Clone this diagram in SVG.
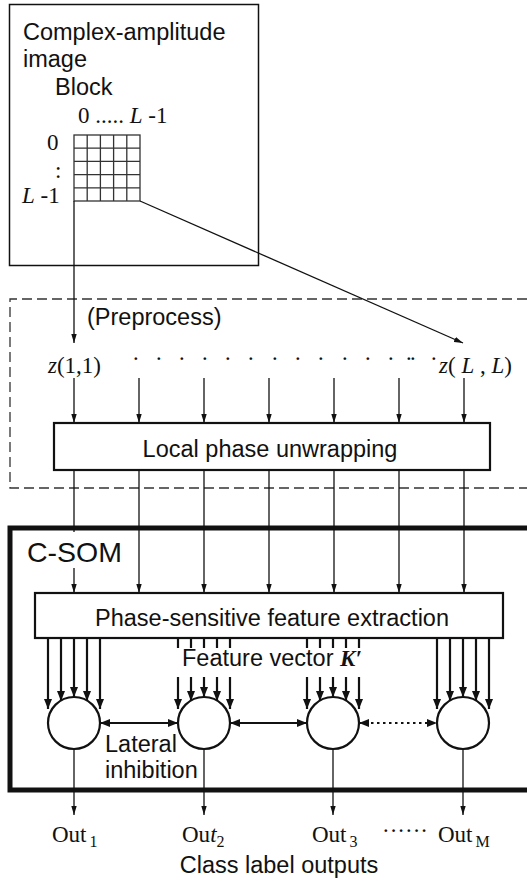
<svg xmlns="http://www.w3.org/2000/svg" width="527" height="881" viewBox="0 0 527 881">
<style>
.s{font-family:"Liberation Sans",Arial,sans-serif;font-size:23.5px;fill:#111}
.r{font-family:"Liberation Serif","Times New Roman",serif;font-size:23px;fill:#111}
.i{font-style:italic}
.ln{stroke:#111;stroke-width:1.3;fill:none}
.th{stroke:#111;stroke-width:2.2;fill:none}
.bx{stroke:#111;stroke-width:2.2;fill:#fff}
</style>
<defs>
<marker id="a" viewBox="0 0 10 6" refX="10" refY="3" markerWidth="9" markerHeight="6" markerUnits="userSpaceOnUse" orient="auto"><path d="M0,0 L10,3 L0,6 z" fill="#111"/></marker>
<marker id="b" viewBox="0 0 10 8" refX="10" refY="4" markerWidth="11" markerHeight="8" markerUnits="userSpaceOnUse" orient="auto-start-reverse"><path d="M0,0 L10,4 L0,8 z" fill="#111"/></marker>
</defs>

<g id="image-box">
<rect x="9.5" y="4.5" width="249" height="261" fill="#fff" stroke="#111" stroke-width="1.5"/>
<text class="s" x="23" y="40">Complex-amplitude</text>
<text class="s" x="23" y="66.5">image</text>
<text class="s" x="55" y="95">Block</text>
<text class="r" x="78" y="123">0 ..... <tspan class="i">L</tspan> -1</text>
<text class="r" x="47" y="150">0</text>
<text class="r" x="55" y="178">:</text>
<text class="r" x="22" y="203"><tspan class="i">L</tspan> -1</text>
<g id="grid" stroke="#333" stroke-width="1.3" fill="none">
<rect x="74" y="135" width="66" height="66"/>
<path d="M87.2 135V201M100.4 135V201M113.6 135V201M126.8 135V201M74 148.2H140M74 161.4H140M74 174.6H140M74 187.8H140"/>
</g>
</g>

<g id="preprocess">
<path d="M527 299H10V488H527" fill="none" stroke="#333" stroke-width="1.3" stroke-dasharray="10,5"/>
<text class="s" x="87" y="325">(Preprocess)</text>
<text class="r" x="48" y="373"><tspan class="i">z</tspan>(1,1)</text>
<text class="r" x="132 155 178 201 224 247 271 294 317 341 364 387 405 409 430" y="366">···············</text>
<text class="r" x="439" y="373"><tspan class="i">z</tspan>( <tspan class="i">L</tspan> , <tspan class="i">L</tspan>)</text>
</g>

<g id="unwrap">
<rect class="bx" x="54" y="423" width="436" height="47"/>
<text class="s" x="270" y="457" text-anchor="middle">Local phase unwrapping</text>
</g>

<g id="csom">
<path d="M527 528H10V790H527" fill="none" stroke="#111" stroke-width="5"/>
</g>

<g id="connectors">
<line class="ln" x1="74" y1="201" x2="74" y2="343" marker-end="url(#a)"/>
<line class="ln" x1="140" y1="201" x2="463" y2="343" marker-end="url(#a)"/>
<g class="ln" marker-end="url(#a)">
<line x1="74" y1="378" x2="74" y2="423"/>
<line x1="139" y1="378" x2="139" y2="423"/>
<line x1="204" y1="378" x2="204" y2="423"/>
<line x1="269" y1="378" x2="269" y2="423"/>
<line x1="334" y1="378" x2="334" y2="423"/>
<line x1="399" y1="378" x2="399" y2="423"/>
<line x1="464" y1="378" x2="464" y2="423"/>
<line x1="74" y1="470" x2="74" y2="593"/>
<line x1="139" y1="470" x2="139" y2="593"/>
<line x1="204" y1="470" x2="204" y2="593"/>
<line x1="269" y1="470" x2="269" y2="593"/>
<line x1="334" y1="470" x2="334" y2="593"/>
<line x1="399" y1="470" x2="399" y2="593"/>
<line x1="464" y1="470" x2="464" y2="593"/>
<line x1="74" y1="750" x2="74" y2="815"/>
<line x1="204" y1="750" x2="204" y2="815"/>
<line x1="333" y1="750" x2="333" y2="815"/>
<line x1="463" y1="750" x2="463" y2="815"/>
</g>
<g class="th" marker-end="url(#b)">
<line x1="48" y1="638" x2="48" y2="709"/>
<line x1="61" y1="638" x2="61" y2="701"/>
<line x1="74" y1="638" x2="74" y2="697"/>
<line x1="87" y1="638" x2="87" y2="701"/>
<line x1="100" y1="638" x2="100" y2="709"/>
<line x1="178" y1="677" x2="178" y2="709"/>
<line x1="191" y1="677" x2="191" y2="701"/>
<line x1="204" y1="677" x2="204" y2="697"/>
<line x1="217" y1="677" x2="217" y2="701"/>
<line x1="230" y1="677" x2="230" y2="709"/>
<line x1="307" y1="677" x2="307" y2="709"/>
<line x1="320" y1="677" x2="320" y2="701"/>
<line x1="333" y1="677" x2="333" y2="697"/>
<line x1="346" y1="677" x2="346" y2="701"/>
<line x1="359" y1="677" x2="359" y2="709"/>
<line x1="437" y1="638" x2="437" y2="709"/>
<line x1="450" y1="638" x2="450" y2="701"/>
<line x1="463" y1="638" x2="463" y2="697"/>
<line x1="476" y1="638" x2="476" y2="701"/>
<line x1="489" y1="638" x2="489" y2="709"/>
</g>
<path class="th" d="M178 638V648M191 638V648M204 638V648M217 638V648M230 638V648M307 638V648M320 638V648M333 638V648M346 638V648M359 638V648" stroke-width="1.8"/>
<line class="th" x1="100" y1="723" x2="178" y2="723" marker-start="url(#b)" marker-end="url(#b)"/>
<line class="th" x1="230" y1="723" x2="307" y2="723" marker-start="url(#b)" marker-end="url(#b)"/>
<line class="th" x1="359" y1="723" x2="437" y2="723" stroke-dasharray="2.5,3.5" marker-start="url(#b)" marker-end="url(#b)"/>
</g>

<g id="csom-label">
<rect x="24" y="532" width="102" height="36" fill="#fff"/>
<text class="s" x="27" y="562" style="font-size:28.5px">C-SOM</text>
</g>

<g id="extract">
<rect class="bx" x="35" y="593" width="468" height="45"/>
<text class="s" x="272" y="626" text-anchor="middle">Phase-sensitive feature extraction</text>
<text class="s" x="182" y="666">Feature vector <tspan class="r i" font-weight="bold">K′</tspan></text>
</g>

<g id="neuron1"><circle cx="74" cy="723" r="26" fill="#fff" stroke="#111" stroke-width="2.2"/></g>
<g id="neuron2"><circle cx="204" cy="723" r="26" fill="#fff" stroke="#111" stroke-width="2.2"/></g>
<g id="neuron3"><circle cx="333" cy="723" r="26" fill="#fff" stroke="#111" stroke-width="2.2"/></g>
<g id="neuron4"><circle cx="463" cy="723" r="26" fill="#fff" stroke="#111" stroke-width="2.2"/></g>

<g id="lateral-label">
<text class="s" x="105" y="752">Lateral</text>
<text class="s" x="105" y="778">inhibition</text>
</g>

<g id="outputs">
<text class="r" x="52" y="842" font-size="22">Out<tspan font-size="16" dx="3" dy="5">1</tspan></text>
<text class="r" x="182" y="842" font-size="22">Ou<tspan class="i">t</tspan><tspan font-size="16" dy="5">2</tspan></text>
<text class="r" x="312" y="842" font-size="22">Out<tspan font-size="16" dx="3" dy="5">3</tspan></text>
<text class="r" x="382" y="838" font-size="22">······</text>
<text class="r" x="438" y="842" font-size="22">Out<tspan font-size="16" dx="3" dy="5">M</tspan></text>
<text class="s" x="279" y="873" text-anchor="middle">Class label outputs</text>
</g>
</svg>
